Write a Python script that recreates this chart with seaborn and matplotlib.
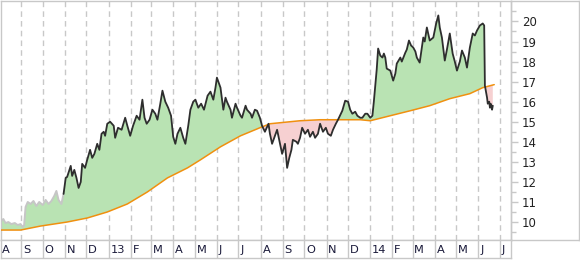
import numpy as np
import pandas as pd
import matplotlib
matplotlib.use("Agg")
import matplotlib.pyplot as plt
import seaborn as sns

# ---------------- data ----------------
start = pd.Timestamp("2012-08-03")
end = pd.Timestamp("2014-07-16")

# day offsets from start, and closing prices
price_days = [0, 4, 7, 11, 15, 20, 24, 28, 31, 33, 35, 38, 42, 46, 50, 54, 59, 63, 67, 71,
              75, 78, 81, 85, 88, 91, 93, 98, 100, 103, 106, 109, 112, 114, 118, 121, 125, 128,
              131, 135, 138, 141, 144, 146, 149, 153, 158, 160, 164, 169, 174, 177, 181, 185,
              190, 194, 198, 201, 204, 208, 212, 216, 219, 223, 226, 230, 234, 238, 241, 244,
              247, 251, 255, 258, 262, 265, 269, 272, 276, 280, 284, 289, 293, 297, 300, 302,
              307, 311, 314, 316, 321, 323, 328, 330, 335, 337, 342, 344, 349, 351, 355, 358,
              362, 365, 369, 374, 376, 379, 383, 386, 390, 393, 397, 400, 403, 406, 408, 413,
              415, 418, 421, 425, 429, 432, 436, 439, 443, 446, 450, 454, 457, 461, 464, 468,
              471, 477, 481, 485, 488, 491, 495, 498, 502, 505, 509, 512, 516, 519, 521, 523,
              525, 527, 530, 533, 535, 537, 539, 544, 548, 551, 553, 558, 560, 565, 567, 570,
              573, 576, 579, 581, 585, 590, 592, 595, 599, 604, 608, 611, 613, 616, 620, 623,
              627, 631, 634, 637, 641, 644, 648, 651, 655, 659, 662, 665, 669, 673, 675, 676,
              677, 679, 680, 682, 683, 684, 686, 687]
price_vals = [10.05, 10.15, 9.95, 10.0, 9.9, 9.95, 9.85, 9.9, 9.75, 9.85, 10.75, 11.0, 10.9,
              11.05, 10.8, 11.0, 10.85, 11.1, 10.9, 11.05, 11.3, 11.55, 11.1, 10.9, 11.4, 12.2,
              12.25, 12.8, 12.3, 12.6, 12.2, 11.7, 12.0, 12.9, 12.7, 13.1, 13.6, 13.2, 13.4,
              13.9, 13.6, 14.4, 14.5, 14.3, 14.9, 15.0, 14.8, 14.2, 14.7, 14.6, 15.2, 14.8,
              14.3, 14.8, 15.3, 15.1, 16.1, 15.2, 14.9, 15.1, 15.6, 15.4, 15.1, 15.9, 16.55,
              16.0, 15.7, 15.3, 14.25, 13.9, 14.4, 14.7, 14.2, 13.9, 14.8, 15.6, 16.0, 16.1,
              15.7, 15.9, 15.6, 16.3, 16.5, 16.1, 16.7, 17.2, 16.7, 15.6, 16.2, 16.0, 15.6,
              15.2, 15.9, 15.7, 15.3, 15.2, 15.8, 15.6, 15.4, 15.2, 15.6, 15.55, 15.2, 14.8,
              14.5, 14.9, 14.4, 13.9, 14.3, 14.6, 13.9, 13.4, 13.9, 12.7, 13.2, 13.6, 14.1,
              14.0, 13.9, 14.2, 14.7, 14.4, 14.6, 14.25, 14.5, 14.2, 14.4, 14.9, 14.5, 14.7,
              14.4, 14.3, 14.6, 14.9, 15.1, 15.55, 16.05, 16.0, 15.6, 15.4, 15.5, 15.3, 15.2,
              15.2, 15.4, 15.4, 15.2, 15.3, 16.0, 16.8, 17.6, 18.65, 18.3, 18.2, 18.4, 18.2,
              17.65, 17.55, 17.05, 17.4, 17.9, 18.2, 18.0, 18.45, 18.6, 19.05, 18.8, 18.7,
              18.5, 18.2, 17.95, 19.2, 19.0, 19.7, 19.05, 19.2, 19.9, 20.3, 19.7, 19.2, 18.05,
              18.6, 19.4, 18.4, 18.0, 17.55, 18.0, 18.55, 18.2, 17.7, 18.7, 19.4, 19.3, 19.55,
              19.8, 19.9, 19.8, 16.8, 16.6, 16.2, 15.9, 16.0, 15.7, 15.9, 15.6, 15.8]
grey_until_day = 88

# 200-day moving average
ma_days = [0, 28, 56, 93, 121, 149, 177, 205, 233, 261, 279, 307, 335, 362, 376, 390, 418,
           446, 474, 502, 516, 544, 572, 599, 627, 655, 673, 689]
ma_vals = [9.6, 9.6, 9.8, 10.0, 10.2, 10.5, 10.9, 11.5, 12.2, 12.7, 13.1, 13.75, 14.3, 14.7,
           14.9, 14.95, 15.05, 15.1, 15.1, 15.1, 15.05, 15.3, 15.55, 15.8, 16.15, 16.4, 16.7,
           16.85]

month_labels = ["A", "S", "O", "N", "D", "13", "F", "M", "A", "M", "J", "J",
                "A", "S", "O", "N", "D", "14", "F", "M", "A", "M", "J", "J"]
y_ticks = [10, 11, 12, 13, 14, 15, 16, 17, 18, 19, 20]

# ---------------- build frames ----------------
price_dates = start + pd.to_timedelta(price_days, unit="D")
ma_dates = start + pd.to_timedelta(ma_days, unit="D")
df = pd.DataFrame({"date": price_dates, "price": price_vals, "day": price_days})
ma_df = pd.DataFrame({"date": ma_dates, "ma": ma_vals})
early = df[df["day"] <= grey_until_day]
late = df[df["day"] >= grey_until_day]
ma_on_price = np.interp(price_days, ma_days, ma_vals)
month_starts = pd.date_range("2012-08-01", "2014-07-01", freq="MS")

# ---------------- style ----------------
sns.set_style("white")
plt.rcParams["font.family"] = ["DejaVu Sans"]
GRID = "#c8c8c8"
W, H = 580, 260

fig = plt.figure(figsize=(W / 100, H / 100), dpi=100)
fig.patch.set_facecolor("white")

# right label panel frame
axr = fig.add_axes([510.7 / W, 1 - 240 / H, (579.3 - 510.7) / W, (240 - 0.5) / H])
axr.set_xticks([]); axr.set_yticks([])
for s in axr.spines.values():
    s.set_color(GRID); s.set_linewidth(1)
axr.patch.set_alpha(0)

# main axes
ax = fig.add_axes([0.5 / W, 1 - 240 / H, (510.7 - 0.5) / W, (240 - 0.5) / H])
ax.patch.set_alpha(0)
x = df["date"].values
p = np.array(price_vals)
ax.fill_between(x, p, ma_on_price, where=p >= ma_on_price, interpolate=True,
                color="#b9e3b3", linewidth=0, zorder=1)
ax.fill_between(x, p, ma_on_price, where=p < ma_on_price, interpolate=True,
                color="#f6d0d1", linewidth=0, zorder=1)
sns.lineplot(data=ma_df, x="date", y="ma", ax=ax, color="#f0900f", linewidth=1.1, zorder=3)
sns.lineplot(data=early, x="date", y="price", ax=ax, color="#c6c6c6", linewidth=1.4, zorder=4)
sns.lineplot(data=late, x="date", y="price", ax=ax, color="#2e2e2e", linewidth=1.3, zorder=4)

ax.set_xlim(start, end)
ax.set_ylim(9.104, 21.045)
ax.set_xlabel(""); ax.set_ylabel("")
ax.set_xticks(month_starts[1:])
ax.tick_params(axis="x", length=0, labelbottom=False)
ax.grid(True, axis="x", color=GRID, linestyle=(0, (4, 3)), linewidth=1)
ax.grid(False, axis="y")
ax.yaxis.tick_right()
ax.set_yticks(y_ticks)
ax.set_yticklabels([str(v) for v in y_ticks])
ax.set_yticks(np.arange(9.5, 21.0, 1.0), minor=True)
ax.tick_params(axis="y", which="major", length=5, width=1, color=GRID, labelsize=8.5,
               labelcolor="#222222", pad=3, right=True, left=False)
ax.tick_params(axis="y", which="minor", length=3.5, width=1, color=GRID, right=True, left=False)
for s in ax.spines.values():
    s.set_color(GRID); s.set_linewidth(1)

# bottom month band
axb = fig.add_axes([0.5 / W, 2 / H, (510.7 - 0.5) / W, 18 / H])
axb.set_xlim(start, end)
axb.set_ylim(0, 1)
axb.set_xticks([]); axb.set_yticks([])
for s in axb.spines.values():
    s.set_color(GRID); s.set_linewidth(1)
for m in month_starts[1:]:
    axb.axvline(m, color=GRID, linewidth=1)
offset = pd.Timedelta(days=2.5)
for m, lab in zip(month_starts, month_labels):
    xpos = max(m, start) + offset
    axb.text(xpos, 0.45, lab, ha="left", va="center", fontsize=8.2, color="#1a1a3a")

fig.savefig("out.png", dpi=100, facecolor="white")
